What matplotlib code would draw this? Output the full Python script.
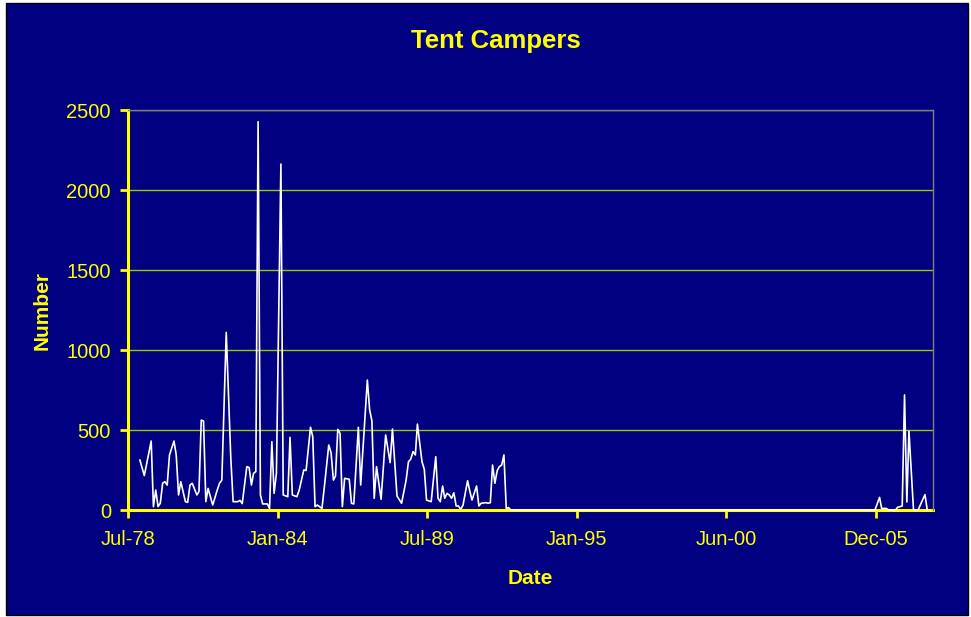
import pandas as pd
import matplotlib
matplotlib.use("Agg")
import matplotlib.pyplot as plt
from matplotlib.patches import Rectangle

# Tent campers counts (month, number)
early_months = [
    "1979-01", "1979-03", "1979-06", "1979-07", "1979-08", "1979-09", "1979-10", "1979-11", "1979-12",
    "1980-01", "1980-02", "1980-04", "1980-05", "1980-06", "1980-07", "1980-09", "1980-10", "1980-11", "1980-12",
    "1981-02", "1981-03", "1981-04", "1981-05", "1981-06", "1981-07", "1981-09", "1981-11", "1981-12",
    "1982-01", "1982-03", "1982-05", "1982-06", "1982-08", "1982-09", "1982-10", "1982-12",
    "1983-01", "1983-02", "1983-03", "1983-04", "1983-05", "1983-06", "1983-07", "1983-09", "1983-10", "1983-11", "1983-12",
    "1984-01", "1984-03", "1984-04", "1984-06", "1984-07", "1984-08", "1984-10", "1984-11",
    "1985-01", "1985-02", "1985-04", "1985-05", "1985-06", "1985-07", "1985-09", "1985-10", "1985-12",
    "1986-01", "1986-02", "1986-03", "1986-04", "1986-05", "1986-06", "1986-07", "1986-09", "1986-10", "1986-11",
    "1987-01", "1987-02", "1987-05", "1987-06", "1987-07", "1987-08", "1987-09", "1987-11",
    "1988-01", "1988-03", "1988-04", "1988-06", "1988-08", "1988-10", "1988-11", "1988-12",
    "1989-01", "1989-02", "1989-03", "1989-05", "1989-06", "1989-07", "1989-09", "1989-11", "1989-12",
    "1990-01", "1990-02", "1990-03", "1990-04", "1990-05", "1990-06", "1990-07", "1990-08", "1990-09", "1990-10", "1990-11",
    "1991-01", "1991-02", "1991-03", "1991-05", "1991-06", "1991-07", "1991-09", "1991-10", "1991-11", "1991-12",
    "1992-01", "1992-02", "1992-03", "1992-04", "1992-05", "1992-06", "1992-07", "1992-08",
]
early_counts = [
    312, 215, 431, 21, 125, 21, 42, 167, 177,
    156, 344, 431, 344, 94, 177, 52, 48, 156, 167,
    94, 115, 562, 556, 52, 135, 31, 125, 167,
    187, 1110, 323, 52, 52, 60, 40, 271,
    265, 156, 229, 240, 2427, 94, 38, 38, 10, 427, 104,
    229, 2162, 94, 83, 454, 94, 83, 125,
    250, 247, 517, 458, 21, 31, 10, 135, 406,
    358, 187, 212, 504, 479, 21, 198, 192, 42, 38,
    517, 156, 812, 625, 558, 73, 271, 67,
    469, 296, 506, 87, 42, 187, 302, 317,
    365, 344, 537, 302, 254, 62, 52, 333, 73,
    52, 150, 73, 104, 94, 73, 108, 25, 25, 4, 31,
    183, 115, 62, 150, 25, 42, 46, 42, 46, 281,
    167, 246, 271, 281, 344, 10, 15, 0,
]
late_months = [
    "2005-12", "2006-02", "2006-03", "2006-05", "2006-06", "2006-09", "2006-10", "2006-12",
    "2007-01", "2007-02", "2007-03", "2007-05", "2007-07", "2007-10", "2007-11",
]
late_counts = [0, 79, 10, 10, 0, 0, 17, 25, 719, 50, 493, 0, 0, 96, 0]

tick_labels = ["Jul-78", "Jan-84", "Jul-89", "Jan-95", "Jun-00", "Dec-05"]

NAVY = "#000080"
YELLOW = "#FFFF00"
plt.rcParams["font.family"] = ["Liberation Sans", "DejaVu Sans"]

dates = pd.to_datetime(early_months + late_months, format="%Y-%m")
counts = early_counts + late_counts

fig = plt.figure(figsize=(9.71, 6.17), dpi=100, facecolor="white")
fig.patches.append(Rectangle((6 / 971, 2 / 617), 962 / 971, 612 / 617,
                             transform=fig.transFigure, facecolor=NAVY,
                             edgecolor="black", lw=1, zorder=-1))

ax = fig.add_axes([128.3 / 971, 1 - 510 / 617, (932.5 - 128.3) / 971, 400 / 617])
ax.set_facecolor(NAVY)
ax.plot(dates, counts, color="white", lw=1.2, zorder=3, clip_on=False)

# axis scales (excel style date axis, 2000 day major unit)
start = pd.Timestamp("1978-07-30")
ticks = pd.date_range(start, periods=len(tick_labels), freq="2000D")
ax.set_xlim(start, pd.Timestamp("2008-01-10"))
ax.set_xticks(ticks)
ax.set_xticklabels(tick_labels)
ax.set_ylim(0, 2500)
ax.set_yticks(range(0, 2501, 500))

ax.yaxis.grid(True, color="#99CC00", lw=1)
ax.set_axisbelow(True)
for side in ["top", "right"]:
    ax.spines[side].set_color("#808080")
    ax.spines[side].set_linewidth(1)
for side in ["left", "bottom"]:
    ax.spines[side].set_color(YELLOW)
    ax.spines[side].set_linewidth(2.2)
    ax.spines[side].set_zorder(2)

ax.tick_params(axis="both", colors=YELLOW, labelcolor=YELLOW, width=2,
               length=5.5, labelsize=14.5, direction="out")
ax.tick_params(axis="x", pad=9)
ax.tick_params(axis="y", pad=7)

fig.text(495.5 / 971, 1 - 41 / 617, "Tent Campers", ha="center", va="center",
         fontsize=18.5, weight="bold", color=YELLOW)
fig.text(530 / 971, 1 - 579 / 617, "Date", ha="center", va="center",
         fontsize=15, weight="bold", color=YELLOW)
fig.text(42 / 971, 1 - 311 / 617, "Number", ha="center", va="center",
         rotation=90, fontsize=15, weight="bold", color=YELLOW)

fig.savefig("out.png", dpi=100, facecolor=fig.get_facecolor())
